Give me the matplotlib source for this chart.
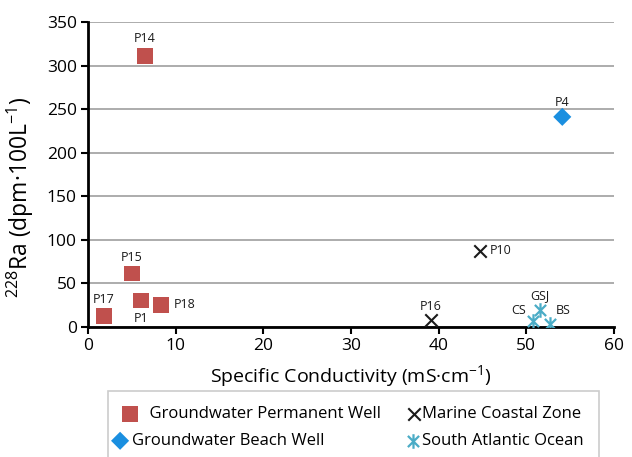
import matplotlib
matplotlib.use("Agg")
import matplotlib.pyplot as plt
from matplotlib.path import Path
from matplotlib.legend_handler import HandlerPathCollection

plt.rcParams['font.family'] = ['Open Sans', 'DejaVu Sans']
plt.rcParams['mathtext.fontset'] = 'custom'
plt.rcParams['mathtext.rm'] = 'Open Sans'
plt.rcParams['mathtext.it'] = 'Open Sans:italic'

# Data
perm_labels = ['P14', 'P15', 'P1', 'P18', 'P17']
perm_x = [6.5, 5.0, 6.0, 8.3, 1.8]
perm_y = [311, 61, 30, 25, 12]

beach_labels = ['P4']
beach_x = [54.1]
beach_y = [241]

marine_labels = ['P10', 'P16']
marine_x = [44.7, 39.1]
marine_y = [87, 8]

ocean_labels = ['CS', 'GSJ', 'BS']
ocean_x = [50.8, 51.6, 52.7]
ocean_y = [6, 19, 3]

xticks = [0, 10, 20, 30, 40, 50, 60]
yticks = [0, 50, 100, 150, 200, 250, 300, 350]

star = Path([(-1, -1), (1, 1), (-1, 1), (1, -1), (0, -1.3), (0, 1.3)],
            [Path.MOVETO, Path.LINETO, Path.MOVETO, Path.LINETO, Path.MOVETO, Path.LINETO])

fig = plt.figure(figsize=(6.32, 4.57), dpi=100)
ax = fig.add_axes([88/632, 1-326.6/457, (614-88)/632, (326.6-22)/457])

ax.set_xlim(0, 60)
ax.set_ylim(0, 350)
ax.set_xticks(xticks)
ax.set_yticks(yticks)
ax.grid(axis='y', color='#a6a6a6', linewidth=1.3)
ax.set_axisbelow(True)
for s in ['top', 'right']:
    ax.spines[s].set_visible(False)
for s in ['left', 'bottom']:
    ax.spines[s].set_linewidth(2)
    ax.spines[s].set_color('black')
ax.tick_params(axis='both', direction='out', length=5, width=1.5, labelsize=12.5, colors='black')
ax.tick_params(axis='y', pad=3)

h1 = ax.scatter(perm_x, perm_y, marker='s', s=130, color='#c0504d', edgecolors='none', zorder=3,
                label='    Groundwater Permanent Well')
h2 = ax.scatter(beach_x, beach_y, marker='D', s=85, color='#1a8fe0', edgecolors='none', zorder=3,
                label='Groundwater Beach Well')
h3 = ax.scatter(marine_x, marine_y, marker='x', s=80, color='#1a1a1a', linewidths=1.5, zorder=3,
                label='Marine Coastal Zone')
h4 = ax.scatter(ocean_x, ocean_y, marker=star, s=110, color='#4bacc6', linewidths=1.6, zorder=3,
                label='South Atlantic Ocean')

fs = 9
offsets = {
    'P14': (0, 8, 'center', 'bottom'),
    'P15': (0, 7, 'center', 'bottom'),
    'P1': (0, -8, 'center', 'top'),
    'P18': (9, 0, 'left', 'center'),
    'P17': (0, 7, 'center', 'bottom'),
    'P4': (0, 6, 'center', 'bottom'),
    'P10': (7, 0, 'left', 'center'),
    'P16': (0, 5, 'center', 'bottom'),
    'CS': (-5, 3, 'right', 'bottom'),
    'GSJ': (0, 6, 'center', 'bottom'),
    'BS': (4, 5, 'left', 'bottom'),
}
for labs, xs, ys in [(perm_labels, perm_x, perm_y), (beach_labels, beach_x, beach_y),
                     (marine_labels, marine_x, marine_y), (ocean_labels, ocean_x, ocean_y)]:
    for l, x, y in zip(labs, xs, ys):
        dx, dy, ha, va = offsets[l]
        ax.annotate(l, (x, y), xytext=(dx, dy), textcoords='offset points', ha=ha, va=va,
                    fontsize=fs, color='#1a1a1a', annotation_clip=False)

ax.set_xlabel('Specific Conductivity (mS·cm$^{-1}$)', fontsize=14, labelpad=6)
ax.set_ylabel('$^{228}$Ra (dpm·100L$^{-1}$)', fontsize=16.5)
ax.yaxis.set_label_coords(-0.099, 0.425)

hm = {h1: HandlerPathCollection(numpoints=1, xpad=0.41),
      h2: HandlerPathCollection(numpoints=1, xpad=-0.79),
      h3: HandlerPathCollection(numpoints=1, xpad=-0.4),
      h4: HandlerPathCollection(numpoints=1, xpad=-0.5)}
leg = fig.legend(handles=[h1, h2, h3, h4], ncol=2, loc='upper left',
                 bbox_to_anchor=(108/632, 1-(391+66)/457, (599-108)/632, 66/457),
                 mode='expand', fontsize=12, frameon=True, fancybox=False,
                 edgecolor='#bfbfbf', borderaxespad=0, handletextpad=0.1,
                 labelspacing=0.67, borderpad=0.9, handlelength=0.44, columnspacing=1.0,
                 handler_map=hm)
leg.get_frame().set_linewidth(1.2)

fig.savefig('out.png', dpi=100)
